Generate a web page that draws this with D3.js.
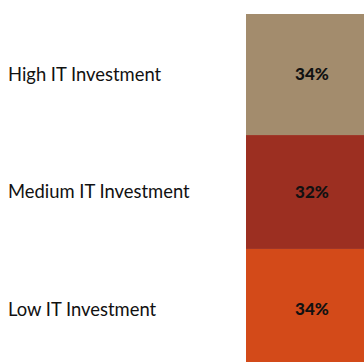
<!DOCTYPE html>
<html>
<head>
<meta charset="utf-8">
<script src="https://cdn.jsdelivr.net/npm/d3@7"></script>
<style>
  html, body { margin: 0; padding: 0; background: #fff; }
  svg { display: block; }
</style>
</head>
<body>
<div id="chart"></div>
<script>
// Share of firms by IT investment level (bottom to top of the stacked column)
const categories = ["Low IT Investment", "Medium IT Investment", "High IT Investment"];
const shares = [34, 32, 34];
const colors = ["#D34A19", "#9C2F21", "#A38C6D"];
const column = ["Total"];

const width = 364, height = 362;

const svg = d3.select("#chart").append("svg")
  .attr("width", width)
  .attr("height", height);

const row = { Total: "Total" };
categories.forEach((c, i) => { row[c] = shares[i]; });
const series = d3.stack().keys(categories)([row]);

const x = d3.scaleBand().domain(column).range([246, 372]).padding(0);
const y = d3.scaleLinear().domain([0, 100]).range([370, 14]);
const color = d3.scaleOrdinal().domain(categories).range(colors);

const layer = svg.selectAll("g.layer")
  .data(series)
  .join("g")
  .attr("class", "layer")
  .attr("fill", d => color(d.key));

layer.selectAll("rect")
  .data(d => d)
  .join("rect")
  .attr("x", d => x(d.data.Total))
  .attr("width", x.bandwidth())
  .attr("y", d => y(d[1]))
  .attr("height", d => y(d[0]) - y(d[1]));

// value labels centred in each segment
layer.append("text")
  .attr("x", (x(column[0]) + x.bandwidth() / 2) + 3)
  .attr("y", d => y((d[0][0] + d[0][1]) / 2))
  .attr("dy", "0.35em")
  .attr("text-anchor", "middle")
  .attr("font-family", "Lato, 'Open Sans', sans-serif")
  .attr("font-weight", "900")
  .attr("font-size", 17)
  .attr("fill", "#111")
  .text(d => shares[categories.indexOf(d.key)] + "%");

// category labels on the left, aligned with their segment
svg.selectAll("text.cat")
  .data(series)
  .join("text")
  .attr("class", "cat")
  .attr("x", 8)
  .attr("y", d => y((d[0][0] + d[0][1]) / 2))
  .attr("dy", "0.35em")
  .attr("font-family", "Lato, 'Open Sans', sans-serif")
  .attr("font-size", 18.4)
  .attr("fill", "#111")
  .text(d => d.key);
</script>
</body>
</html>
